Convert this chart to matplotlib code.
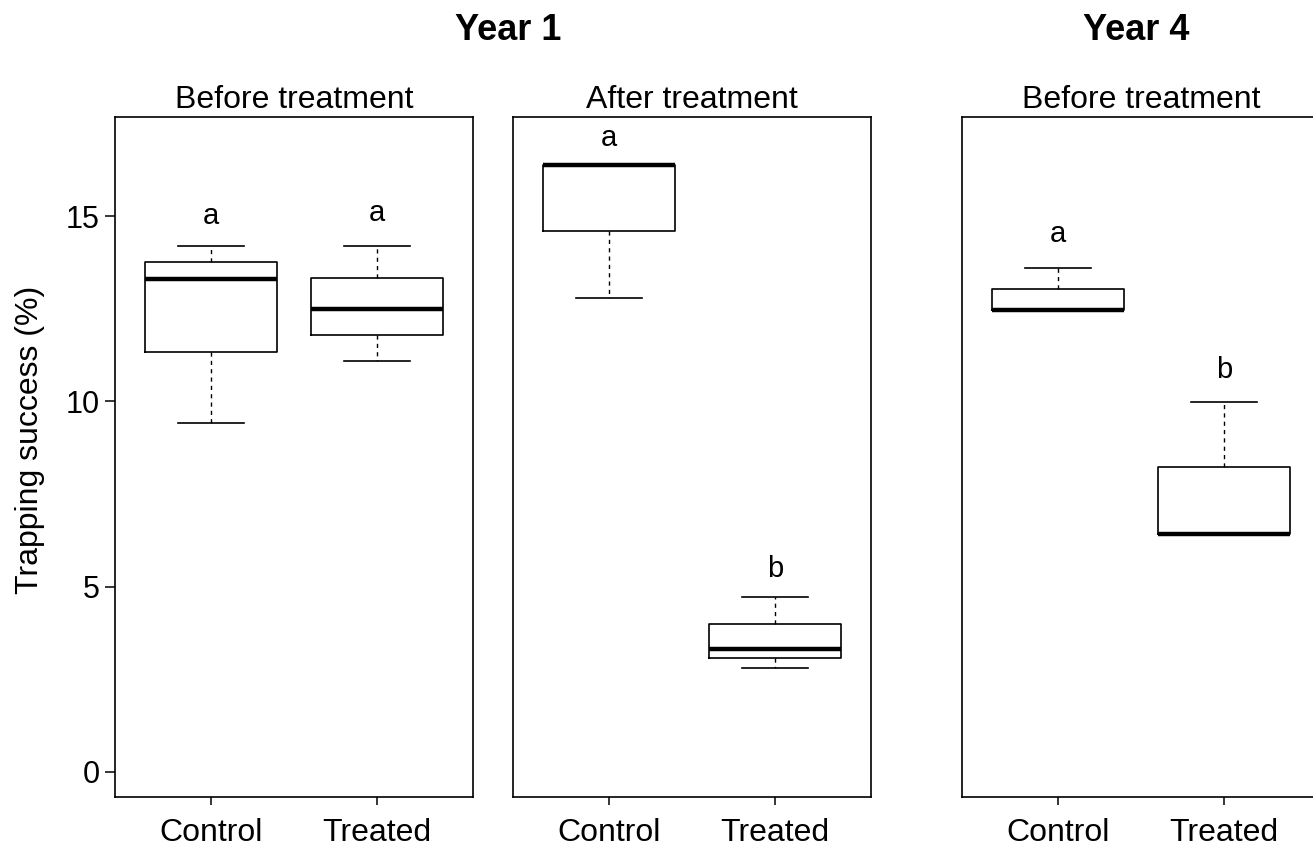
import matplotlib
matplotlib.use('Agg')
import matplotlib.pyplot as plt

plt.rcParams['font.family'] = ['Liberation Sans', 'DejaVu Sans']

W, H = 1313, 847

groups = ['Control', 'Treated']
panel_titles = ['Before treatment', 'After treatment', 'Before treatment']

# five-number summaries: low whisker, q1, median, q3, high whisker
p1_control = [9.41, 11.34, 13.30, 13.75, 14.19]
p1_treated = [11.10, 11.79, 12.48, 13.32, 14.19]
p2_control = [12.79, 14.60, 16.38, 16.38, 16.38]
p2_treated = [2.81, 3.08, 3.32, 3.99, 4.71]
p3_control = [12.46, 12.46, 12.46, 13.04, 13.59]
p3_treated = [6.41, 6.41, 6.41, 8.22, 9.98]

# significance letters and their baseline heights
letters = [['a', 'a'], ['a', 'b'], ['a', 'b']]
letter_y = [[14.78, 14.87], [16.88, 5.25], [14.30, 10.63]]

panels = [[p1_control, p1_treated], [p2_control, p2_treated], [p3_control, p3_treated]]
yticks = [0, 5, 10, 15]

fig = plt.figure(figsize=(W / 100, H / 100), dpi=100)

bottom = 1 - 797 / H
height = (797 - 116.7) / H
width = 358 / W
lefts = [115 / W, 513 / W, 962 / W]

for i, (stats_pair, left) in enumerate(zip(panels, lefts)):
    ax = fig.add_axes([left, bottom, width, height])
    stats = []
    for s in stats_pair:
        stats.append(dict(whislo=s[0], q1=s[1], med=s[2], q3=s[3], whishi=s[4]))
    ax.bxp(stats, positions=[1, 2], widths=0.8, showfliers=False,
           boxprops=dict(color='black', linewidth=1.2),
           medianprops=dict(color='black', linewidth=3.2, solid_capstyle='butt'),
           whiskerprops=dict(color='black', linewidth=1.0, linestyle=(0, (3, 3))),
           capprops=dict(color='black', linewidth=1.2),
           capwidths=0.4)
    ax.set_xlim(0.42, 2.58)
    ax.set_ylim(-0.68, 17.68)
    ax.set_xticks([1, 2])
    ax.set_xticklabels(groups, fontsize=23)
    ax.tick_params(axis='x', length=6, width=1.1, pad=9)
    if i == 0:
        ax.set_yticks(yticks)
        ax.set_yticklabels([str(t) for t in yticks], fontsize=22)
        ax.tick_params(axis='y', length=7, width=1.1, pad=4)
    else:
        ax.set_yticks([])
    for sp in ax.spines.values():
        sp.set_linewidth(1.2)
    for j in range(2):
        ax.text(j + 1, letter_y[i][j], letters[i][j], ha='center', va='baseline', fontsize=21)
    ax.set_title(panel_titles[i], fontsize=23, pad=6)

fig.text(508 / W, 1 - 40 / H, 'Year 1', ha='center', va='baseline', fontsize=26, fontweight='bold')
fig.text(1136 / W, 1 - 40 / H, 'Year 4', ha='center', va='baseline', fontsize=26, fontweight='bold')
fig.text(30 / W, 1 - 440 / H, 'Trapping success (%)', ha='center', va='center',
         rotation=90, fontsize=23)

fig.savefig('out.png', dpi=100)
